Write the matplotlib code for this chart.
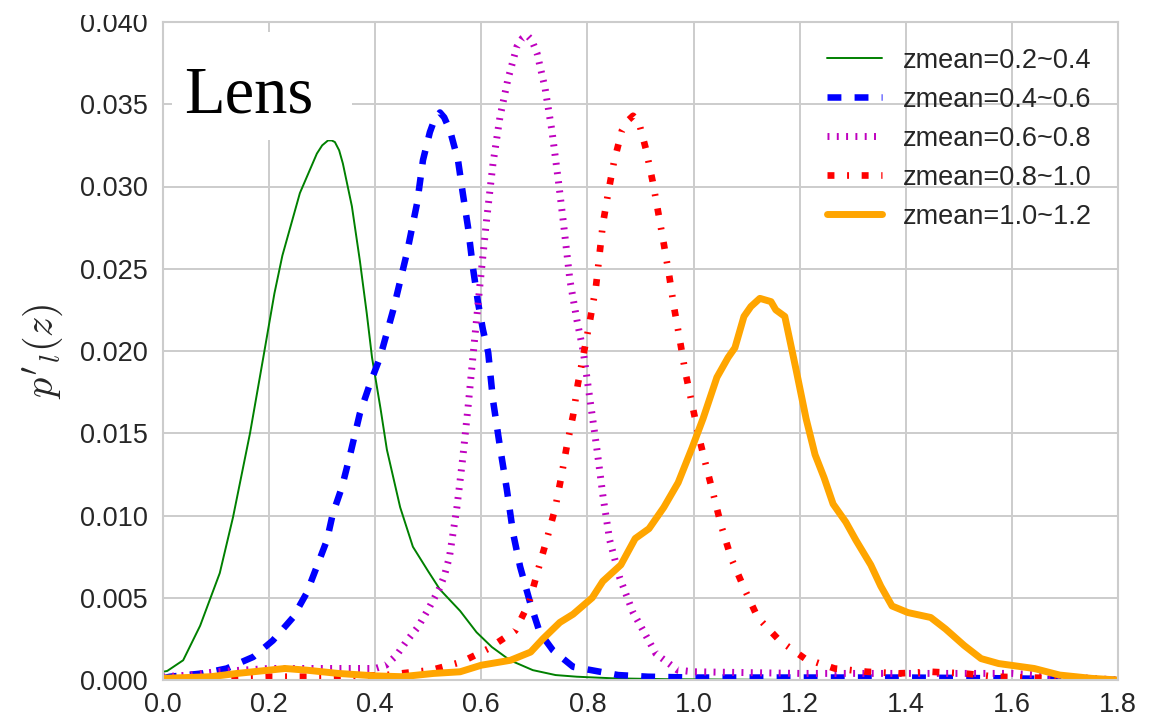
import matplotlib
matplotlib.use("Agg")
import matplotlib.pyplot as plt
from matplotlib.patches import Rectangle

# curves
z_02 = [0.0, 0.008, 0.038, 0.07, 0.107, 0.132, 0.164, 0.189, 0.21, 0.225, 0.258, 0.29,
        0.30, 0.311, 0.318, 0.324, 0.332, 0.339, 0.356, 0.371, 0.384, 0.394, 0.41, 0.422,
        0.447, 0.471, 0.50, 0.522, 0.56, 0.591, 0.62, 0.654, 0.697, 0.74, 0.78, 0.85, 0.95,
        1.05, 1.2, 1.4, 1.6, 1.8]
p_02 = [0.0005, 0.00055, 0.0012, 0.0033, 0.0065, 0.0099, 0.015, 0.0196, 0.0235, 0.0258,
        0.0296, 0.032, 0.0325, 0.0328, 0.0328, 0.0327, 0.0322, 0.0314, 0.0288, 0.0255,
        0.0223, 0.0196, 0.0165, 0.014, 0.0105, 0.0081, 0.0066, 0.0055, 0.0042, 0.0029,
        0.002, 0.0012, 0.0006, 0.0003, 0.0002, 0.0001, 0.00005, 0.00003, 0.0, 0.0, 0.0, 0.0]

z_04 = [0.0, 0.013, 0.075, 0.12, 0.17, 0.207, 0.245, 0.271, 0.29, 0.309, 0.32, 0.337,
        0.352, 0.371, 0.39, 0.409, 0.434, 0.46, 0.479, 0.49, 0.503, 0.512, 0.522, 0.53,
        0.541, 0.556, 0.565, 0.575, 0.584, 0.594, 0.603, 0.613, 0.622, 0.635, 0.648, 0.66,
        0.673, 0.692, 0.71, 0.735, 0.773, 0.807, 0.858, 0.914, 1.0, 1.2, 1.4, 1.6, 1.7, 1.8]
p_04 = [0.0001, 0.0002, 0.0004, 0.0007, 0.0014, 0.0024, 0.0038, 0.0053, 0.0069, 0.0085,
        0.0101, 0.0117, 0.0136, 0.0162, 0.018, 0.0196, 0.0225, 0.026, 0.029, 0.0316,
        0.0333, 0.0341, 0.0345, 0.0342, 0.0334, 0.0316, 0.0296, 0.0275, 0.0251, 0.0229,
        0.0213, 0.0199, 0.017, 0.0142, 0.0116, 0.0089, 0.0069, 0.0047, 0.0029, 0.0018,
        0.0008, 0.0006, 0.0003, 0.0002, 0.00015, 0.00015, 0.00015, 0.0001, 0.00005, 0.0]

z_06 = [0.0, 0.05, 0.1, 0.15, 0.2, 0.3, 0.4, 0.42, 0.44, 0.46, 0.48, 0.50, 0.52, 0.53,
        0.54, 0.554, 0.565, 0.575, 0.584, 0.597, 0.61, 0.622, 0.635, 0.65, 0.667, 0.677,
        0.686, 0.695, 0.705, 0.72, 0.733, 0.745, 0.754, 0.767, 0.78, 0.792, 0.805, 0.818,
        0.83, 0.842, 0.861, 0.886, 0.9, 0.929, 0.97, 1.0, 1.2, 1.4, 1.6, 1.7, 1.8]
p_06 = [0.0002, 0.0003, 0.0005, 0.0006, 0.0007, 0.0007, 0.0007, 0.0009, 0.0015, 0.0024,
        0.0032, 0.0043, 0.0055, 0.0063, 0.0075, 0.0105, 0.0135, 0.0166, 0.0196, 0.0239,
        0.028, 0.0314, 0.0342, 0.0365, 0.0385, 0.039, 0.0392, 0.0389, 0.0381, 0.036,
        0.0334, 0.0304, 0.028, 0.0243, 0.0219, 0.02, 0.017, 0.014, 0.011, 0.0085, 0.0062,
        0.0041, 0.0033, 0.0016, 0.0006, 0.0005, 0.0004, 0.0004, 0.0004, 0.0002, 0.0]

z_08 = [0.0, 0.1, 0.2, 0.3, 0.42, 0.505, 0.563, 0.613, 0.664, 0.69, 0.707, 0.723, 0.739,
        0.751, 0.761, 0.773, 0.782, 0.795, 0.805, 0.816, 0.829, 0.839, 0.85, 0.865, 0.876,
        0.886, 0.897, 0.91, 0.923, 0.933, 0.944, 0.954, 0.963, 0.974, 0.984, 0.997, 1.01,
        1.023, 1.038, 1.052, 1.071, 1.095, 1.121, 1.162, 1.21, 1.266, 1.327, 1.387, 1.447,
        1.51, 1.57, 1.7, 1.8]
p_08 = [0.0001, 0.0001, 0.0002, 0.0002, 0.0003, 0.0006, 0.0011, 0.0019, 0.003, 0.0047,
        0.0067, 0.0085, 0.0104, 0.0124, 0.0142, 0.0161, 0.018, 0.0202, 0.0219, 0.0239,
        0.0277, 0.0296, 0.0315, 0.0334, 0.034, 0.0343, 0.0339, 0.0323, 0.0303, 0.0285,
        0.0265, 0.0246, 0.0227, 0.0207, 0.0188, 0.0168, 0.0148, 0.0131, 0.0112, 0.0094,
        0.0074, 0.0056, 0.0038, 0.0024, 0.0013, 0.0007, 0.0005, 0.0004, 0.0005, 0.0004,
        0.0002, 0.0001, 0.0]

z_10 = [0.0, 0.09, 0.14, 0.2, 0.23, 0.27, 0.33, 0.40, 0.45, 0.51, 0.56, 0.60, 0.655,
        0.693, 0.716, 0.748, 0.773, 0.809, 0.829, 0.863, 0.89, 0.916, 0.944, 0.971, 0.997,
        1.018, 1.044, 1.065, 1.078, 1.095, 1.108, 1.125, 1.146, 1.155, 1.172, 1.193, 1.212,
        1.229, 1.246, 1.263, 1.287, 1.306, 1.334, 1.353, 1.374, 1.404, 1.447, 1.475, 1.51,
        1.542, 1.575, 1.642, 1.69, 1.75, 1.8]
p_10 = [0.0001, 0.0002, 0.0004, 0.0006, 0.0007, 0.0006, 0.0004, 0.00025, 0.0002, 0.0004,
        0.0005, 0.0009, 0.0012, 0.0017, 0.0025, 0.0035, 0.004, 0.005, 0.006, 0.007, 0.0086,
        0.0092, 0.0105, 0.012, 0.0141, 0.0159, 0.0184, 0.0196, 0.0202, 0.0221, 0.0227,
        0.0232, 0.023, 0.0225, 0.0221, 0.0189, 0.0159, 0.0137, 0.0123, 0.0107, 0.0096,
        0.0085, 0.007, 0.0057, 0.0045, 0.0041, 0.0038, 0.0031, 0.0021, 0.0013, 0.001,
        0.0007, 0.0003, 0.0001, 0.0]

labels = ["zmean=0.2~0.4", "zmean=0.4~0.6", "zmean=0.6~0.8", "zmean=0.8~1.0", "zmean=1.0~1.2"]
x_ticks = [0.0, 0.2, 0.4, 0.6, 0.8, 1.0, 1.2, 1.4, 1.6, 1.8]
y_ticks = [0.0, 0.005, 0.010, 0.015, 0.020, 0.025, 0.030, 0.035, 0.040]

plt.rcParams['font.family'] = ['Liberation Sans', 'DejaVu Sans']
plt.rcParams['mathtext.fontset'] = 'cm'
plt.rcParams['lines.scale_dashes'] = False
plt.rcParams['lines.solid_capstyle'] = 'round'
plt.rcParams['lines.solid_joinstyle'] = 'round'
plt.rcParams['lines.dash_capstyle'] = 'butt'

fig = plt.figure(figsize=(11.7, 7.21), dpi=100)
ax = fig.add_axes([163 / 1170, 41 / 721, 955 / 1170, 658 / 721])

ax.plot(z_02, p_02, color='g', lw=1.4, label=labels[0])
ax.plot(z_04, p_04, color='b', lw=4.7, dashes=(10, 9.5), label=labels[1])
ax.plot(z_06, p_06, color='m', lw=5, dashes=(1.4, 5.3), label=labels[2])
ax.plot(z_08, p_08, color='r', lw=4.8, dashes=(5, 9.1, 1.4, 9.1), label=labels[3])
ax.plot(z_10, p_10, color='orange', lw=5, label=labels[4])

ax.set_xlim(0, 1.8)
ax.set_ylim(0, 0.04)
ax.set_xticks(x_ticks)
ax.set_yticks(y_ticks)
ax.set_xticklabels(["%.1f" % v for v in x_ticks])
ax.set_yticklabels(["%.3f" % v for v in y_ticks])
ax.tick_params(axis='both', length=0, labelsize=19.5, labelcolor='#262626')
ax.tick_params(axis='x', pad=9)
ax.tick_params(axis='y', pad=11)

ax.grid(True, color='#cccccc', lw=1.4)
ax.set_axisbelow(True)
for sp in ax.spines.values():
    sp.set_color('#cccccc')
    sp.set_linewidth(1.5)

ax.set_ylabel("$p'_l(z)$", fontsize=29, color='#262626')
ax.yaxis.set_label_coords(-0.103, 0.5)

# white box behind the panel name
ax.add_patch(Rectangle((0.0094, 0.8207), 0.188, 0.164, transform=ax.transAxes,
                       facecolor='white', edgecolor='none', zorder=2.5))
ax.text(0.022, 0.863, "Lens", transform=ax.transAxes, fontsize=48,
        family=['Liberation Serif', 'DejaVu Serif'], va='baseline', ha='left', zorder=3)

leg = ax.legend(loc='upper right', frameon=False, fontsize=19.5, labelspacing=0.48,
                borderaxespad=0.55)
for t in leg.get_texts():
    t.set_color('#262626')

# the reference image is cut off at the top edge
fig.patches.append(Rectangle((0, 1 - 15 / 721), 1, 15 / 721, transform=fig.transFigure,
                             facecolor='white', edgecolor='none', zorder=10))

fig.savefig("out.png", dpi=100)
